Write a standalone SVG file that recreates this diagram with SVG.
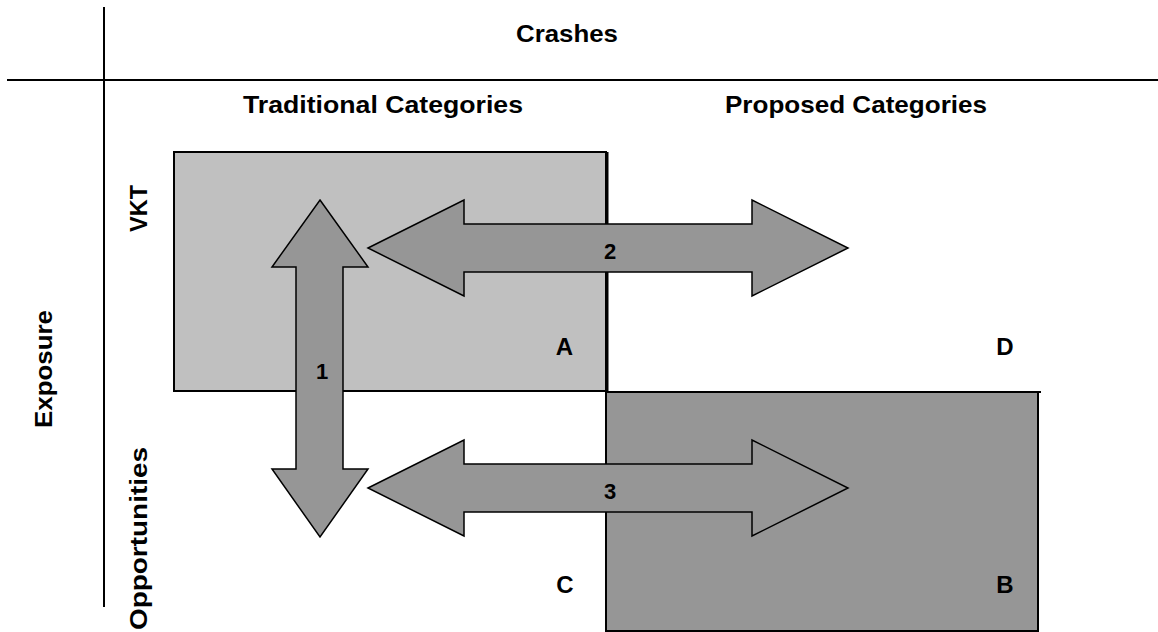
<svg xmlns="http://www.w3.org/2000/svg" width="1158" height="632" viewBox="0 0 1158 632">
<style>
text{font-family:"Liberation Sans",Arial,sans-serif;font-weight:bold;fill:#000}
.hd{font-size:24px}
.lt{font-size:24px;text-anchor:middle}
.num{font-size:22px;text-anchor:middle}
.axis{stroke:#000;stroke-width:2;fill:none}
.arrow{fill:#969696;stroke:#000;stroke-width:1.5;stroke-linejoin:miter}
</style>
<rect width="1158" height="632" fill="#fff"/>
<g id="axes">
<line class="axis" x1="104" y1="7" x2="104" y2="607"/>
<line class="axis" x1="7" y1="80" x2="1158" y2="80"/>
</g>
<g id="headers">
<text class="hd" x="516" y="42" textLength="102" lengthAdjust="spacingAndGlyphs">Crashes</text>
<text class="hd" x="243" y="113" textLength="280" lengthAdjust="spacingAndGlyphs">Traditional Categories</text>
<text class="hd" x="725" y="113" textLength="262" lengthAdjust="spacingAndGlyphs">Proposed Categories</text>
<text class="hd" transform="translate(52,428) rotate(-90)" textLength="118" lengthAdjust="spacingAndGlyphs">Exposure</text>
<text class="hd" transform="translate(147,232) rotate(-90)" textLength="47" lengthAdjust="spacingAndGlyphs">VKT</text>
<text class="hd" transform="translate(147,630) rotate(-90)" textLength="183" lengthAdjust="spacingAndGlyphs">Opportunities</text>
</g>
<g id="nodeA">
<rect x="174" y="152" width="432" height="239" fill="#c0c0c0" stroke="#000" stroke-width="2"/>
<text class="lt" x="564.5" y="355">A</text>
</g>
<g id="nodeB">
<rect x="606" y="392" width="432" height="239" fill="#969696" stroke="#000" stroke-width="2"/>
<line x1="606" y1="392" x2="1041" y2="392" stroke="#000" stroke-width="2"/>
<text class="lt" x="1005" y="593">B</text>
</g>
<g id="divider">
<line x1="607" y1="152" x2="607" y2="392" stroke="#000" stroke-width="3"/>
</g>
<g id="nodeC">
<text class="lt" x="565" y="593">C</text>
</g>
<g id="nodeD">
<text class="lt" x="1005" y="355">D</text>
</g>
<g id="connectors">
<g id="arrow1">
<polygon class="arrow" points="320,200 368,267 343,267 343,469 368,469 320,537 272,469 296,469 296,267 272,267"/>
<text class="num" x="322" y="379">1</text>
</g>
<g id="arrow2">
<polygon class="arrow" points="368,248 464,200 464,224 752,224 752,200 848,248 752,296 752,272 464,272 464,296"/>
<text class="num" x="610" y="259">2</text>
</g>
<g id="arrow3">
<polygon class="arrow" points="368,488 464,440 464,464 752,464 752,440 848,488 752,536 752,512 464,512 464,536"/>
<text class="num" x="610" y="499">3</text>
</g>
</g>
</svg>
